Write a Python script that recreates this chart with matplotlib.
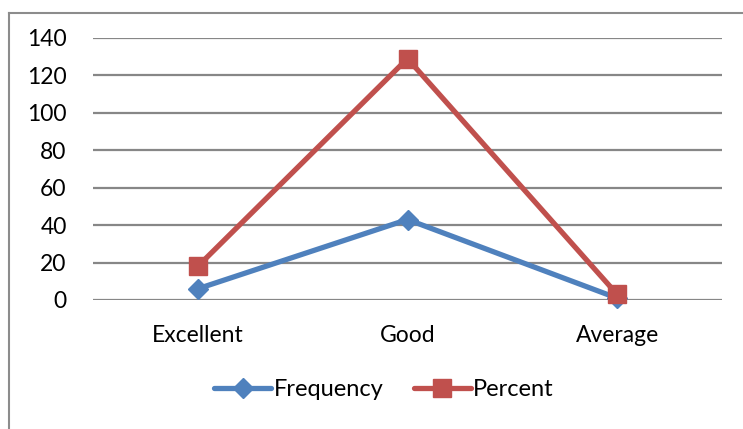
import matplotlib
matplotlib.use("Agg")
import matplotlib.pyplot as plt
import numpy as np
from matplotlib.lines import Line2D

categories = ["Excellent", "Good", "Average"]
frequency = [6, 43, 1]
percent = [12, 86, 2]
y_ticks = [0, 20, 40, 60, 80, 100, 120, 140]

blue = "#4F81BD"
red = "#C0504D"
grid_col = "#878787"

plt.rcParams["font.family"] = ["Lato", "DejaVu Sans"]

W, H = 743, 429
fig = plt.figure(figsize=(W / 100, H / 100), dpi=100)

# chart area border (left and top edges)
bx, by = 8.5 / W, 1 - 12.5 / H
fig.add_artist(Line2D([bx, bx], [0, by], transform=fig.transFigure,
                      color="#8c8c8c", lw=1.5))
fig.add_artist(Line2D([bx, 1], [by, by], transform=fig.transFigure,
                      color="#8c8c8c", lw=1.5))

ax = fig.add_axes([93 / W, 1 - 300 / H, (722 - 93) / W, (300 - 38) / H])
x = np.arange(len(categories))
# stacked line: the second series sits on top of the first
stacked = np.add(frequency, percent)

ax.plot(x, frequency, color=blue, lw=3.8, marker="D", markersize=10,
        solid_capstyle="round", clip_on=False, zorder=3, label="Frequency")
ax.plot(x, stacked, color=red, lw=3.8, marker="s", markersize=13,
        solid_capstyle="round", clip_on=False, zorder=4, label="Percent")

ax.set_xlim(-0.5, 2.5)
ax.set_ylim(0, 140)
ax.set_yticks(y_ticks)
ax.set_xticks(x)
ax.set_xticklabels(categories)
ax.yaxis.grid(True, color=grid_col, lw=1.6)
ax.set_axisbelow(True)
for s in ax.spines.values():
    s.set_visible(False)
ax.tick_params(axis="both", length=0, labelsize=16.5, colors="black")
ax.tick_params(axis="y", pad=19)
ax.tick_params(axis="x", pad=18)

ax.legend(loc="center", bbox_to_anchor=(384 / W, 1 - 390 / H),
          bbox_transform=fig.transFigure, ncol=2, frameon=False,
          fontsize=17, handlelength=2.4, handletextpad=0.1,
          columnspacing=1.3)

fig.savefig("out.png", dpi=100)
